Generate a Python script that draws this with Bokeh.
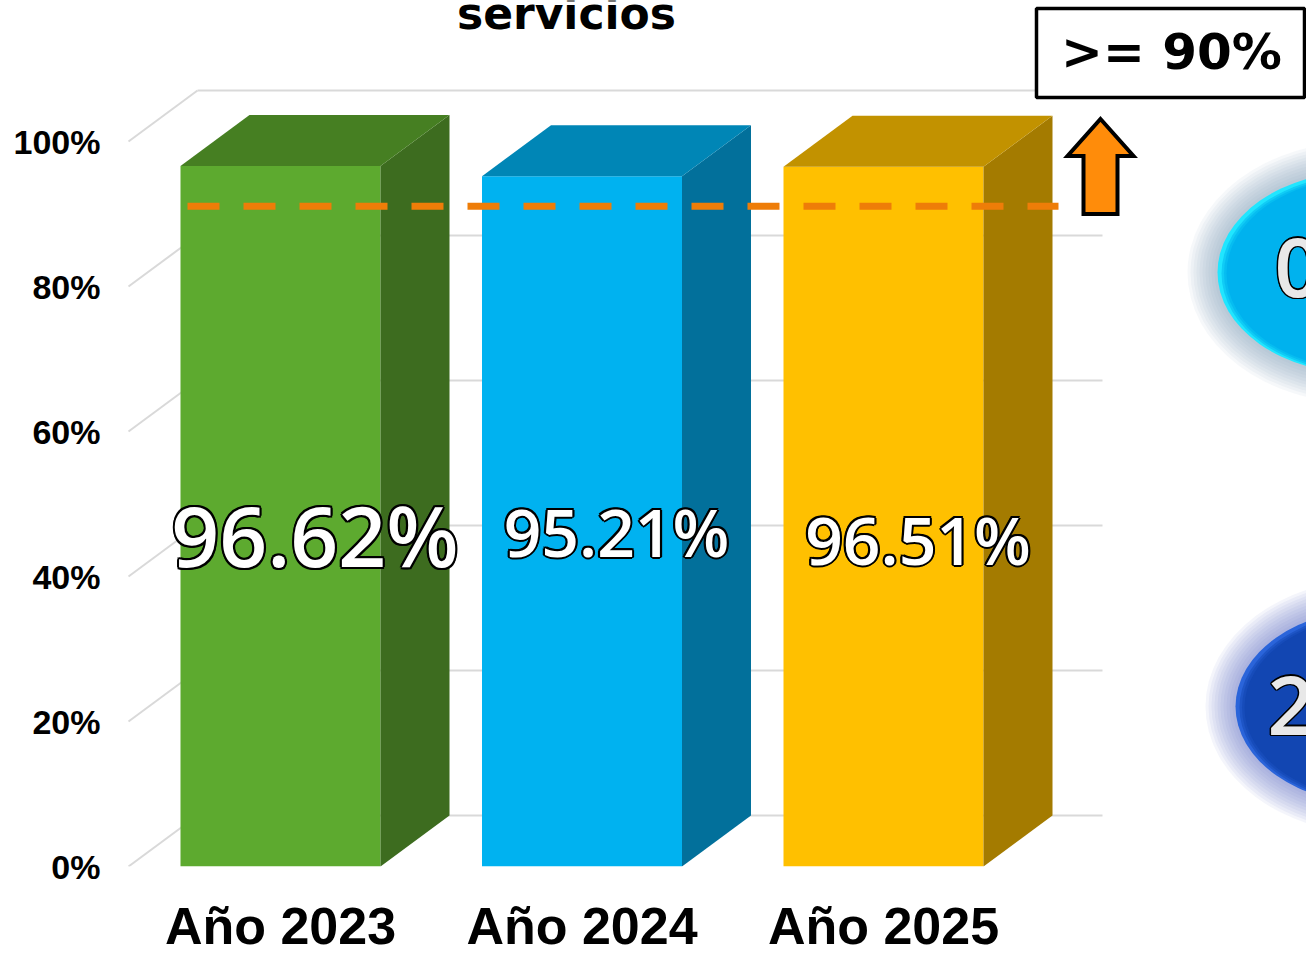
from bokeh.plotting import figure
from bokeh.models import Range1d, FixedTicker, ColumnDataSource
from bokeh.core.properties import value
from bokeh.embed import file_html
from bokeh.resources import INLINE

# ---------------- data ----------------
categories = ["Año 2023", "Año 2024", "Año 2025"]
values = [96.62, 95.21, 96.51]
value_labels = ["96.62%", "95.21%", "96.51%"]
target = 90
target_label = ">= 90%"
y_ticks = [0, 20, 40, 60, 80, 100]
y_tick_labels = ["0%", "20%", "40%", "60%", "80%", "100%"]
title_text = "servicios"
badge_texts = ["0", "2"]

# ---------------- styles ----------------
front_colors = ["#5DAA2F", "#00B2F0", "#FFC000"]
side_colors = ["#3D6C1F", "#02709B", "#A47B00"]
top_colors = ["#467F22", "#0086B6", "#C29200"]
label_sizes = [84, 66, 66]
label_base_px = [568, 557, 565]   # screen baseline of each value label

# ---------------- layout constants (screen px -> data) ----------------
PX_X = 301.5      # px per category step
X0 = 280.0        # screen x of first category centre
PX_Y = 7.25       # px per percent
Y0 = 866.0        # screen y of 0 %
W, H = 1306, 958
FRAME_L, FRAME_R, FRAME_T = 118, 1306, 0
BASE_FIX = 0.405  # renderer baseline correction, in em


def px2x(sx):
    return (sx - X0) / PX_X


def py2y(sy):
    return (Y0 - sy) / PX_Y


def base_y(sy, size):
    return py2y(sy - BASE_FIX * size)


HALF_W = 100.0 / PX_X
DX = 69.0 / PX_X
DY = 51.0 / PX_Y

p = figure(width=W, height=H, output_backend="svg", toolbar_location=None,
           x_range=Range1d(px2x(FRAME_L), px2x(FRAME_R)),
           y_range=Range1d(0, py2y(FRAME_T)),
           min_border_left=FRAME_L, min_border_right=0,
           min_border_top=0, min_border_bottom=int(H - Y0))
p.outline_line_color = None
p.background_fill_color = "white"
p.border_fill_color = "white"
p.xgrid.visible = False
p.ygrid.visible = False

# axes
p.yaxis.ticker = FixedTicker(ticks=y_ticks)
p.yaxis.major_label_overrides = {t: l for t, l in zip(y_ticks, y_tick_labels)}
p.yaxis.axis_line_color = None
p.yaxis.major_tick_line_color = None
p.yaxis.minor_tick_line_color = None
p.yaxis.major_label_standoff = 12
p.yaxis.major_label_text_font = "Liberation Sans"
p.yaxis.major_label_text_font_style = "bold"
p.yaxis.major_label_text_font_size = "34px"
p.yaxis.major_label_text_color = "black"

p.xaxis.ticker = FixedTicker(ticks=list(range(len(categories))))
p.xaxis.major_label_overrides = {i: c for i, c in enumerate(categories)}
p.xaxis.axis_line_color = None
p.xaxis.major_tick_line_color = None
p.xaxis.minor_tick_line_color = None
p.xaxis.major_label_standoff = 24
p.xaxis.major_label_text_font = "Liberation Sans"
p.xaxis.major_label_text_font_style = "bold"
p.xaxis.major_label_text_font_size = "52px"
p.xaxis.major_label_text_color = "black"

# ---------------- 3D grid (back wall + side wall) ----------------
gx0 = px2x(128)
gx1 = px2x(1102)
gxs, gys = [], []
for t in y_ticks:
    gxs.append([gx0 + DX, gx1])
    gys.append([t + DY, t + DY])
    gxs.append([gx0, gx0 + DX])
    gys.append([t, t + DY])
p.multi_line(gxs, gys, line_color="#D9D9D9", line_width=2)


# ---------------- decorative badges on the right ----------------
def glow_ellipse(cx, cy, w, h, glow_color, rim_color, fill_color):
    for k in range(10, 0, -1):
        p.ellipse(x=px2x(cx), y=py2y(cy), width=(w + 6 * k) / PX_X,
                  height=(h + 6 * k) / PX_Y, fill_color=glow_color,
                  fill_alpha=0.07, line_color=None)
    p.ellipse(x=px2x(cx), y=py2y(cy), width=w / PX_X, height=h / PX_Y,
              fill_color=rim_color, line_color=None)
    for k, a in enumerate([0.5, 0.6, 1.0]):
        p.ellipse(x=px2x(cx + 2 + k), y=py2y(cy + 1), width=(w - 4 - 3 * k) / PX_X,
                  height=(h - 4 - 3 * k) / PX_Y, fill_color=fill_color,
                  fill_alpha=a, line_color=None)


glow_ellipse(1360, 272, 286, 202, "#7A9CBC", "#20E6FF", "#00B2EE")
glow_ellipse(1376, 706, 282, 196, "#6478C8", "#2A64DA", "#1246B2")

# ---------------- 3D bars ----------------
n = len(values)
xs_front_l = [i - HALF_W for i in range(n)]
xs_front_r = [i + HALF_W for i in range(n)]
p.quad(left=xs_front_l, right=xs_front_r, bottom=[0] * n, top=values,
       fill_color=front_colors, line_color=None)

side_xs, side_ys, top_xs, top_ys = [], [], [], []
for i, v in enumerate(values):
    xl, xr = xs_front_l[i], xs_front_r[i]
    side_xs.append([xr, xr + DX, xr + DX, xr])
    side_ys.append([0, DY, v + DY, v])
    top_xs.append([xl, xl + DX, xr + DX, xr])
    top_ys.append([v, v + DY, v + DY, v])
p.patches(side_xs, side_ys, fill_color=side_colors, line_color=None)
p.patches(top_xs, top_ys, fill_color=top_colors, line_color=None)

# ---------------- target line ----------------
ty = target + 0.15 * DY
p.line(x=[px2x(187), px2x(1058)], y=[ty, ty], line_color="#EE7D08",
       line_width=7, line_dash="32 24")

# arrow pointing up from the target level
ax_c = px2x(1100)
hw_head = 33 / PX_X
hw_shaft = 17 / PX_X
head_base = target + 58 / PX_Y
tip = target + 95 / PX_Y
p.patch(x=[ax_c, ax_c + hw_head, ax_c + hw_shaft, ax_c + hw_shaft,
           ax_c - hw_shaft, ax_c - hw_shaft, ax_c - hw_head],
        y=[tip, head_base, head_base, target, target, head_base, head_base],
        fill_color="#FF8C0A", line_color="black", line_width=4,
        line_join="miter")

# target box
p.quad(left=[px2x(1036)], right=[px2x(1304)], top=[py2y(8)],
       bottom=[py2y(97)], fill_color="white", line_color="black",
       line_width=3.5)
p.text(x=[px2x(1171)], y=[base_y(72, 50)], text=[target_label],
       text_font=value("DejaVu Sans"), text_font_style="bold",
       text_font_size="50px", text_color="black",
       text_align="center", text_baseline="alphabetic")


# ---------------- outlined texts ----------------
def outlined_text(xs, ys, texts, sizes, font, fill, align, width=2.2):
    src = ColumnDataSource(dict(x=xs, y=ys, text=texts,
                                size=["%dpx" % s for s in sizes]))
    offs = [(width, 0), (-width, 0), (0, width), (0, -width),
            (width * 0.7, width * 0.7), (-width * 0.7, width * 0.7),
            (width * 0.7, -width * 0.7), (-width * 0.7, -width * 0.7)]
    for ox, oy in offs:
        p.text(x="x", y="y", text="text", source=src, text_font_size="size",
               text_font=value(font), text_color="black", x_offset=ox,
               y_offset=oy, text_align=align, text_baseline="alphabetic")
    p.text(x="x", y="y", text="text", source=src, text_font_size="size",
           text_font=value(font), text_color=fill, text_align=align,
           text_baseline="alphabetic")


outlined_text([i + DX / 2 for i in range(n)],
              [base_y(b, s) for b, s in zip(label_base_px, label_sizes)],
              value_labels, label_sizes, "Open Sans SemiBold, Open Sans",
              "white", "center")

outlined_text([px2x(1274), px2x(1267)], [base_y(300, 82), base_y(738, 82)],
              badge_texts, [82, 82], "Open Sans SemiBold, Open Sans",
              "#E8E8E8", "left", width=1.5)

# ---------------- title (second line visible) ----------------
p.text(x=[px2x(566)], y=[base_y(31, 44)], text=[title_text],
       text_font=value("DejaVu Sans"), text_font_style="bold",
       text_font_size="44px", text_color="black",
       text_align="center", text_baseline="alphabetic")

open("out.html", "w").write(file_html(p, INLINE))
